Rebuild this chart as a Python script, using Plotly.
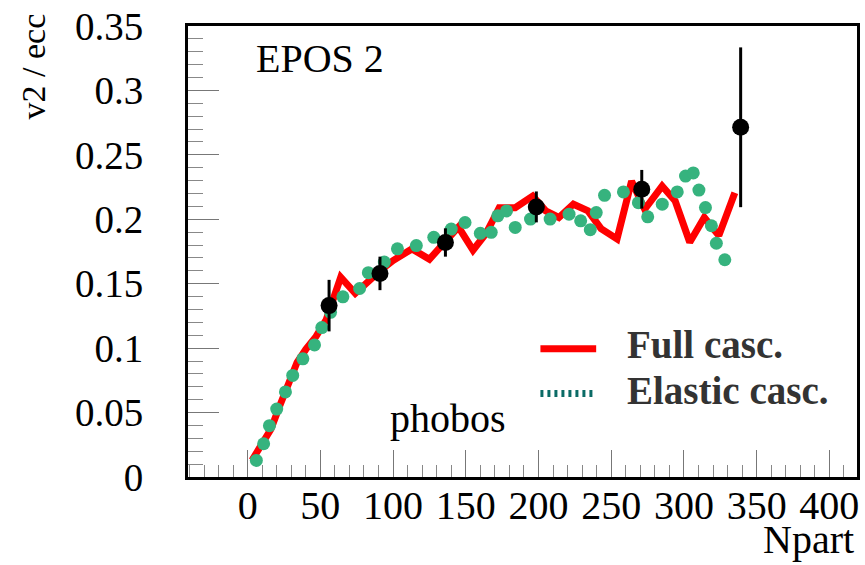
import plotly.graph_objects as go

# ---- data ----
full_npart = [3, 11, 16, 22, 28, 34, 40, 47, 54, 59, 64, 74, 82, 91, 100, 113, 125, 136,
              145, 155, 164, 173, 184, 196, 205, 214, 224, 234, 243, 254, 264, 273, 285,
              294, 304, 314, 324, 335]
full_v2 = [0.013, 0.027, 0.037, 0.055, 0.073, 0.089, 0.099, 0.109, 0.122, 0.137, 0.155,
           0.1425, 0.151, 0.160, 0.168, 0.177, 0.169, 0.183, 0.194, 0.176, 0.189, 0.209,
           0.209, 0.218, 0.2065, 0.2014, 0.2117, 0.2065, 0.1927, 0.1848, 0.2296, 0.2078,
           0.2258, 0.2142, 0.1822, 0.2014, 0.1873, 0.2206]

elastic_npart = [6, 11, 15, 20, 26, 31, 38, 46, 51, 57, 65.5, 77, 83, 94, 103, 116, 128,
                 140, 149.5, 160, 167.5, 172, 178, 184, 194.5, 208, 221, 229, 235.6, 239.7,
                 245.4, 258.4, 268.7, 275.1, 285.1, 295.4, 301.1, 306.4, 310.3, 314.8, 318.9,
                 322.3, 328.1]
elastic_v2 = [0.0129, 0.0258, 0.0398, 0.0527, 0.066, 0.0788, 0.0917, 0.1025, 0.116, 0.1278,
              0.1398, 0.1463, 0.1586, 0.1668, 0.1771, 0.1796, 0.186, 0.1924, 0.1975, 0.1891,
              0.1899, 0.2027, 0.2065, 0.1937, 0.2002, 0.2002, 0.204, 0.1988, 0.1919, 0.2052,
              0.2186, 0.2212, 0.2129, 0.2019, 0.2117, 0.2212, 0.2335, 0.236, 0.2227, 0.2091,
              0.195, 0.1814, 0.1686]

phobos_npart = [56, 91, 136, 198.5, 271, 339]
phobos_v2 = [0.133, 0.158, 0.182, 0.2096, 0.2233, 0.2714]
phobos_err = [0.020, 0.013, 0.011, 0.012, 0.015, 0.062]

x_tickvals = [0, 50, 100, 150, 200, 250, 300, 350, 400]
x_ticktext = ["0", "50", "100", "150", "200", "250", "300", "350", "400"]
y_tickvals = [0, 0.05, 0.1, 0.15, 0.2, 0.25, 0.3, 0.35]
y_ticktext = ["0", "0.05", "0.1", "0.15", "0.2", "0.25", "0.3", "0.35"]

SERIF = "Liberation Serif, Times New Roman, serif"

fig = go.Figure()
fig.add_trace(go.Scatter(x=full_npart, y=full_v2, mode="lines",
                         line=dict(color="#ff0000", width=7), showlegend=False))
fig.add_trace(go.Scatter(x=elastic_npart, y=elastic_v2, mode="markers",
                         marker=dict(color="#36b37e", size=13), showlegend=False))
fig.add_trace(go.Scatter(x=phobos_npart, y=phobos_v2, mode="markers",
                         marker=dict(color="black", size=17),
                         error_y=dict(type="data", array=phobos_err, color="black",
                                      thickness=3, width=0),
                         showlegend=False))

L, R, T, B = 188, 5, 23, 88
W, H = 865, 565
pw = W - L - R
ph = H - T - B

def px(xpix):
    return (xpix - L) / pw

def py(ypix):
    return (H - B - ypix) / ph

fig.update_layout(
    width=W, height=H,
    margin=dict(l=L, r=R, t=T, b=B),
    paper_bgcolor="white", plot_bgcolor="white",
    font=dict(family=SERIF, color="black"),
    showlegend=False,
    xaxis=dict(range=[-41, 419], showgrid=False, zeroline=False,
               showline=True, mirror=True, linecolor="black", linewidth=3,
               ticks="inside", ticklen=27, tickcolor="#777", tickwidth=1,
               tickvals=x_tickvals, ticktext=x_ticktext,
               tickfont=dict(family=SERIF, size=40, color="black"),
               ticklabelstandoff=-9,
               minor=dict(ticks="inside", ticklen=12, dtick=10, tick0=0,
                          tickcolor="#888", tickwidth=1, showgrid=False)),
    yaxis=dict(range=[0, 0.35], showgrid=False, zeroline=False,
               showline=True, mirror=True, linecolor="black", linewidth=3,
               ticks="inside", ticklen=31, tickcolor="#777", tickwidth=1,
               tickvals=y_tickvals, ticktext=y_ticktext,
               tickfont=dict(family=SERIF, size=39, color="black"),
               ticklabelstandoff=34,
               minor=dict(ticks="inside", ticklen=15, dtick=0.01, tick0=0,
                          tickcolor="#888", tickwidth=1, showgrid=False)),
)

annotations = [
    dict(text="EPOS 2", x=px(254), y=py(55.5), xanchor="left", yanchor="middle",
         font=dict(family=SERIF, size=40, color="black")),
    dict(text="phobos", x=px(389), y=py(418), xanchor="left", yanchor="middle",
         font=dict(family=SERIF, size=40, color="black")),
    dict(text="<b>Full casc.</b>", x=px(627), y=py(344), xanchor="left", yanchor="middle",
         font=dict(family=SERIF, size=39, color="#333333")),
    dict(text="<b>Elastic casc.</b>", x=px(627), y=py(390), xanchor="left", yanchor="middle",
         font=dict(family=SERIF, size=39, color="#333333")),
    dict(text="Npart", x=px(859), y=py(540), xanchor="right", yanchor="middle",
         font=dict(family=SERIF, size=40, color="black")),
    dict(text="v2 / ecc", x=px(33), y=py(64), xanchor="center", yanchor="middle",
         textangle=-90, font=dict(family=SERIF, size=34, color="black")),
]
for a in annotations:
    a.update(xref="paper", yref="paper", showarrow=False)
fig.update_layout(annotations=annotations)

fig.add_shape(type="line", xref="paper", yref="paper",
              x0=px(542), x1=px(598), y0=py(348), y1=py(348),
              line=dict(color="#ff0000", width=7))
fig.add_shape(type="line", xref="paper", yref="paper",
              x0=px(542), x1=px(598), y0=py(393), y1=py(393),
              line=dict(color="#0b6b66", width=7, dash="3px,4px"))

fig.write_html("out.html")
